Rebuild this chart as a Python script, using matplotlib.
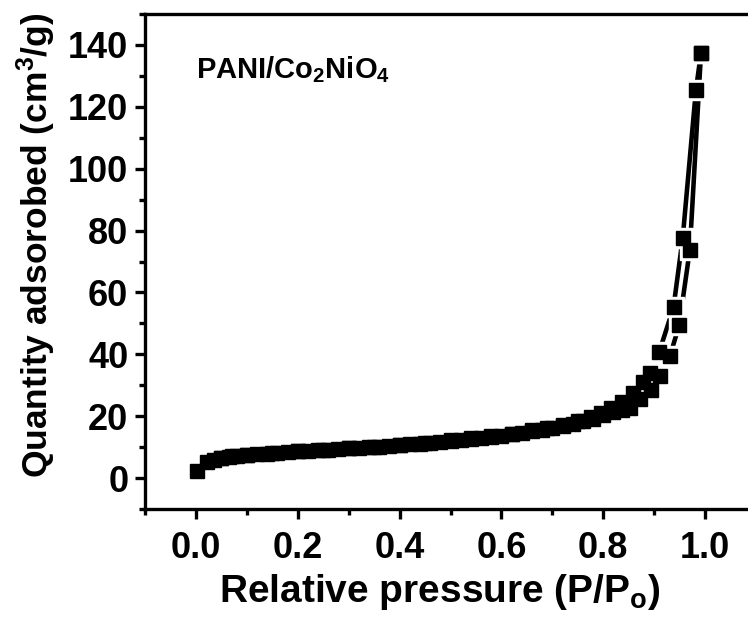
import numpy as np
import matplotlib
matplotlib.use("Agg")
import matplotlib.pyplot as plt

plt.rcParams['font.family'] = ['Liberation Sans', 'DejaVu Sans']
plt.rcParams['font.weight'] = 'bold'
plt.rcParams['mathtext.fontset'] = 'custom'
plt.rcParams['mathtext.rm'] = 'Liberation Sans:bold'
plt.rcParams['mathtext.it'] = 'Liberation Sans:bold'
plt.rcParams['mathtext.bf'] = 'Liberation Sans:bold'

# adsorption branch
p_ads = [0.003, 0.022, 0.035, 0.05, 0.065, 0.08, 0.10, 0.12, 0.14, 0.16, 0.18, 0.20,
         0.22, 0.24, 0.26, 0.28, 0.30, 0.32, 0.34, 0.36, 0.38, 0.40, 0.42, 0.44, 0.46,
         0.48, 0.50, 0.52, 0.54, 0.56, 0.58, 0.60, 0.62, 0.64, 0.66, 0.68, 0.70, 0.72,
         0.74, 0.76, 0.78, 0.80, 0.82, 0.836, 0.853, 0.872, 0.893, 0.912, 0.931, 0.949,
         0.970, 0.992]
q_ads = [2.3, 5.3, 5.8, 6.4, 6.8, 7.1, 7.4, 7.7, 7.9, 8.2, 8.4, 8.6,
         8.8, 9.0, 9.2, 9.4, 9.6, 9.8, 10.0, 10.2, 10.4, 10.6, 10.9, 11.1, 11.4,
         11.7, 12.0, 12.3, 12.6, 13.0, 13.3, 13.7, 14.1, 14.6, 15.1, 15.6, 16.2, 16.8,
         17.5, 18.3, 19.2, 20.3, 21.3, 21.9, 22.8, 25.4, 28.4, 33.0, 39.4, 49.4,
         73.7, 137.5]

# desorption branch
p_des = [0.992, 0.982, 0.956, 0.938, 0.910, 0.891, 0.878, 0.858, 0.836, 0.815, 0.795,
         0.775, 0.75, 0.72, 0.69, 0.66, 0.62, 0.58, 0.54, 0.50, 0.45, 0.40, 0.35,
         0.30, 0.25, 0.20, 0.15, 0.10, 0.07, 0.05]
q_des = [137.5, 125.4, 77.5, 55.2, 40.8, 33.8, 31.1, 27.4, 24.6, 22.5, 21.0,
         19.8, 18.6, 17.3, 16.3, 15.4, 14.4, 13.5, 12.8, 12.2, 11.4, 10.7, 10.1,
         9.6, 9.1, 8.6, 8.1, 7.5, 7.0, 6.5]

fig = plt.figure(figsize=(7.48, 6.18), dpi=100)
ax = fig.add_axes([145 / 748, 109 / 618, 611 / 748, 495 / 618])

# lines, then white squares to leave a gap round each symbol, then the symbols
for p, q in [(p_ads, q_ads), (p_des, q_des)]:
    ax.plot(p, q, color="black", linestyle="-", linewidth=3.3, zorder=2)
for p, q in [(p_ads, q_ads), (p_des, q_des)]:
    ax.plot(p, q, linestyle="none", marker="s", markersize=14,
            color="white", zorder=3)
for p, q in [(p_ads, q_ads), (p_des, q_des)]:
    ax.plot(p, q, linestyle="none", marker="s", markersize=9.5,
            color="black", zorder=4)

ax.set_xlim(-0.1, 1.1)
ax.set_ylim(-10, 150)
ax.set_xticks([0.0, 0.2, 0.4, 0.6, 0.8, 1.0])
ax.set_xticks([-0.1, 0.1, 0.3, 0.5, 0.7, 0.9, 1.1], minor=True)
ax.set_yticks([0, 20, 40, 60, 80, 100, 120, 140])
ax.set_yticks([-10, 10, 30, 50, 70, 90, 110, 130, 150], minor=True)
ax.set_xticklabels(["0.0", "0.2", "0.4", "0.6", "0.8", "1.0"])

for s in ax.spines.values():
    s.set_linewidth(2.4)
ax.tick_params(which="major", direction="out", length=7, width=2.4,
               labelsize=26, pad=5)
ax.tick_params(which="minor", direction="out", length=4, width=2.4)
ax.tick_params(axis="x", which="major", pad=9)

ax.set_xlabel("Relative pressure (P/P$_\\mathregular{o}$)", fontsize=28,
              fontweight="bold")
ax.set_ylabel("Quantity adsorobed (cm$^\\mathregular{3}$/g)", fontsize=25.5,
              fontweight="bold")
ax.xaxis.set_label_coords(0.483, -0.128)
ax.yaxis.set_label_coords(-0.142, 0.533)

ax.text(0.0, 132, "PANI/Co$_\\mathregular{2}$NiO$_\\mathregular{4}$",
        fontsize=21, fontweight="bold", va="center", ha="left")

fig.savefig("out.png", dpi=100)
